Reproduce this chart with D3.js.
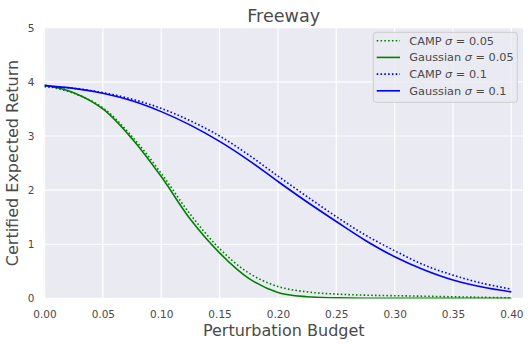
<!DOCTYPE html>
<html lang="en">
<head>
  <meta charset="UTF-8">
  <title>Freeway</title>
  <script src="https://d3js.org/d3.v7.min.js"></script>
  <style>
    body { margin: 0; background: #fff; }
    text { font-family: "DejaVu Sans", sans-serif; fill: #4a4a4a; }
  </style>
</head>
<body>
  <div class="canvas"></div>
  <script>
    // budgets (x) shared by all curves
    const budgets = [0, 0.025, 0.05, 0.075, 0.10, 0.125, 0.15, 0.175, 0.20,
                     0.225, 0.25, 0.275, 0.30, 0.325, 0.35, 0.375, 0.40];
    const campSmall = [3.93, 3.79, 3.52, 2.99, 2.31, 1.55, 0.92, 0.47, 0.22,
                       0.12, 0.08, 0.06, 0.05, 0.04, 0.03, 0.02, 0.01];
    const gaussSmall = [3.94, 3.80, 3.50, 2.95, 2.25, 1.46, 0.84, 0.37, 0.11,
                        0.03, 0.01, 0.0, 0.0, 0.0, 0.0, 0.0, 0.0];
    const campLarge = [3.91, 3.88, 3.80, 3.68, 3.51, 3.28, 3.00, 2.65, 2.26,
                       1.88, 1.51, 1.17, 0.88, 0.62, 0.43, 0.28, 0.17];
    const gaussLarge = [3.93, 3.88, 3.79, 3.65, 3.45, 3.20, 2.90, 2.55, 2.16,
                        1.78, 1.42, 1.07, 0.77, 0.53, 0.34, 0.21, 0.12];
    const xTicks = [0, 0.05, 0.10, 0.15, 0.20, 0.25, 0.30, 0.35, 0.40];
    const yTicks = [0, 1, 2, 3, 4, 5];

    const series = [
      { name: 'CAMP', sigma: '0.05', values: campSmall, color: 'green', dotted: true },
      { name: 'Gaussian', sigma: '0.05', values: gaussSmall, color: 'green', dotted: false },
      { name: 'CAMP', sigma: '0.1', values: campLarge, color: 'blue', dotted: true },
      { name: 'Gaussian', sigma: '0.1', values: gaussLarge, color: 'blue', dotted: false }
    ];

    const width = 532;
    const height = 347;
    const [mt, mb, mr, ml] = [27.7, 48.6, 9, 44.5];
    const graphWidth = width - ml - mr;
    const graphHeight = height - mt - mb;

    const svg = d3.select('.canvas')
                  .append('svg')
                  .attr('width', width)
                  .attr('height', height);

    const graph = svg.append('g')
                     .attr('transform', `translate(${ml}, ${mt})`);

    const x = d3.scaleLinear().domain([0, 0.41]).range([0, graphWidth]);
    const y = d3.scaleLinear().domain([0, 5]).range([graphHeight, 0]);

    // background + grid
    graph.append('rect')
         .attr('width', graphWidth)
         .attr('height', graphHeight)
         .attr('fill', '#eaeaf2');

    graph.append('defs').append('clipPath').attr('id', 'clip')
         .append('rect').attr('width', graphWidth).attr('height', graphHeight);

    graph.selectAll('.gx').data(xTicks).enter()
         .append('line')
         .attr('x1', d => x(d)).attr('x2', d => x(d))
         .attr('y1', 0).attr('y2', graphHeight)
         .attr('stroke', '#fff').attr('stroke-width', 1.2);

    graph.selectAll('.gy').data(yTicks).enter()
         .append('line')
         .attr('x1', 0).attr('x2', graphWidth)
         .attr('y1', d => y(d)).attr('y2', d => y(d))
         .attr('stroke', '#fff').attr('stroke-width', 1.2);

    // axes (labels only, no domain / tick marks)
    const xAxis = graph.append('g')
      .attr('transform', `translate(0, ${graphHeight})`)
      .call(d3.axisBottom(x).tickValues(xTicks).tickFormat(d3.format('.2f')).tickSize(0).tickPadding(12));
    const yAxis = graph.append('g')
      .call(d3.axisLeft(y).tickValues(yTicks).tickFormat(d3.format('d')).tickSize(0).tickPadding(10));
    [xAxis, yAxis].forEach(ax => {
      ax.select('.domain').remove();
      ax.selectAll('text')
        .attr('fill', '#4a4a4a')
        .style('font-family', '"DejaVu Sans", sans-serif')
        .style('font-size', '10.5px');
    });

    // curves
    const line = d3.line()
                   .x((d, i) => x(budgets[i]))
                   .y(d => y(d))
                   .curve(d3.curveCatmullRom.alpha(0.5));

    const curves = graph.append('g').attr('clip-path', 'url(#clip)');
    curves.selectAll('path').data(series).enter()
      .append('path')
      .attr('d', s => line(s.values))
      .attr('fill', 'none')
      .attr('stroke', s => s.color)
      .attr('stroke-width', 1.6)
      .attr('stroke-dasharray', s => s.dotted ? '1.6,2.2' : null);

    // title & axis labels
    svg.append('text')
       .attr('x', ml + graphWidth / 2).attr('y', 22)
       .attr('text-anchor', 'middle')
       .style('font-size', '17.6px')
       .text('Freeway');

    svg.append('text')
       .attr('x', ml + graphWidth / 2).attr('y', 336)
       .attr('text-anchor', 'middle')
       .style('font-size', '16px')
       .text('Perturbation Budget');

    svg.append('text')
       .attr('transform', `translate(18, ${mt + graphHeight / 2}) rotate(-90)`)
       .attr('text-anchor', 'middle')
       .style('font-size', '16px')
       .text('Certified Expected Return');

    // legend
    const legend = graph.append('g').attr('transform', `translate(${373.3 - ml}, ${32.3 - mt})`);
    legend.append('rect')
          .attr('width', 144).attr('height', 70)
          .attr('rx', 3)
          .attr('fill', '#eaeaf2').attr('fill-opacity', 0.8)
          .attr('stroke', '#ccc').attr('stroke-width', 1);

    const entries = legend.selectAll('.entry').data(series).enter()
      .append('g')
      .attr('transform', (d, i) => `translate(0, ${8.4 + i * 16.7})`);
    entries.append('line')
      .attr('x1', 3.4).attr('x2', 26.7)
      .attr('stroke', s => s.color)
      .attr('stroke-width', 1.6)
      .attr('stroke-dasharray', s => s.dotted ? '1.6,2.2' : null);
    const lab = entries.append('text')
      .attr('x', 36).attr('dy', '0.35em')
      .style('font-size', '11.3px');
    lab.append('tspan').text(s => s.name + ' ');
    lab.append('tspan').style('font-style', 'italic').text('σ');
    lab.append('tspan').text(s => ' = ' + s.sigma);
  </script>
</body>
</html>
